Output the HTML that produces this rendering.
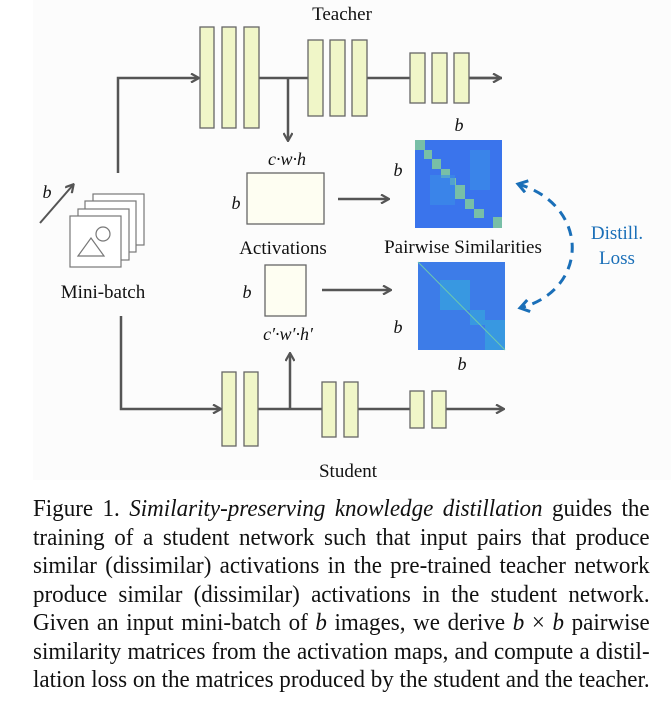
<!DOCTYPE html>
<html><head><meta charset="utf-8"><style>
body{margin:0;width:671px;height:702px;background:#fff;overflow:hidden;position:relative;font-family:"Liberation Serif",serif}
.cap{position:absolute;left:33px;font-size:24.5px;line-height:28px;color:#111;white-space:nowrap}
.cap span{display:inline-block;width:656px;transform:scaleX(0.94);transform-origin:0 0;text-align:justify;text-align-last:justify}
</style></head><body>
<svg width="671" height="480" style="position:absolute;left:0;top:0" font-family="Liberation Serif, serif">
<defs>
<marker id="ah" markerWidth="10" markerHeight="10" refX="8" refY="5" orient="auto" markerUnits="userSpaceOnUse"><path d="M1,0.5 L9,5 L1,9.5" fill="none" stroke="#555" stroke-width="2.2"/></marker>
<marker id="bh" markerWidth="16" markerHeight="16" refX="12" refY="7" orient="auto-start-reverse" markerUnits="userSpaceOnUse"><path d="M3,1 L12,7 L3,13" fill="none" stroke="#1a6fb8" stroke-width="3"/></marker>
</defs>
<rect x="33" y="0" width="638" height="480" fill="#fcfcfc"/>
<g fill="none" stroke="#555" stroke-width="2.5">
<path d="M118,173 V78 H198" marker-end="url(#ah)"/>
<path d="M259,78 H308 M367,78 H410 M469,78 H502" />
<path d="M469,78 H500" marker-end="url(#ah)"/>
<path d="M288,78 V140" marker-end="url(#ah)"/>
<path d="M121,316 V409 H220" marker-end="url(#ah)"/>
<path d="M258,409 H322 M358,409 H410"/>
<path d="M446,409 H503" marker-end="url(#ah)"/>
<path d="M290,409 V354" marker-end="url(#ah)"/>
<path d="M338,199 H388" marker-end="url(#ah)"/>
<path d="M322,290 H390" marker-end="url(#ah)"/>
<path d="M40,223 L73,185" marker-end="url(#ah)" stroke-width="2"/>
</g>
<g fill="#f0f6c8" stroke="#666" stroke-width="1.3">
<rect x="200" y="27" width="14" height="101"/><rect x="222" y="27" width="14" height="101"/><rect x="244" y="27" width="15" height="101"/>
<rect x="308" y="40" width="15" height="76"/><rect x="330" y="40" width="15" height="76"/><rect x="352" y="40" width="15" height="76"/>
<rect x="410" y="53" width="15" height="50"/><rect x="432" y="53" width="15" height="50"/><rect x="454" y="53" width="15" height="50"/>
<rect x="222" y="372" width="14" height="74"/><rect x="244" y="372" width="14" height="74"/>
<rect x="322" y="382" width="14" height="55"/><rect x="344" y="382" width="14" height="55"/>
<rect x="410" y="391" width="14" height="37"/><rect x="432" y="391" width="14" height="37"/>
</g>
<g fill="#fefef2" stroke="#666" stroke-width="1.3">
<rect x="247" y="173" width="77" height="51"/><rect x="265" y="265" width="41" height="51"/>
</g>
<g fill="#fff" stroke="#777" stroke-width="1.2">
<rect x="93" y="194" width="51" height="51"/><rect x="85" y="201" width="51" height="51"/><rect x="78" y="209" width="51" height="51"/><rect x="70" y="216" width="51" height="51"/>
<circle cx="103" cy="234" r="7"/><path d="M78,256 L91,238 L104,256 Z"/>
</g>
<rect x="415" y="140" width="87" height="88" fill="#3a74ec"/>
<g fill="#7fc8a0" opacity="0.9">
<rect x="415" y="140" width="10" height="10"/><rect x="424" y="150" width="8" height="9"/><rect x="432" y="159" width="9" height="10"/><rect x="441" y="169" width="9" height="9"/><rect x="450" y="178" width="6" height="7"/><rect x="455" y="185" width="10" height="14"/><rect x="465" y="199" width="9" height="10"/><rect x="474" y="209" width="10" height="9"/><rect x="493" y="217" width="9" height="11"/>
</g>
<g fill="#3a90e8" opacity="0.6"><rect x="430" y="175" width="25" height="30"/><rect x="470" y="150" width="20" height="40"/></g>
<rect x="418" y="262" width="87" height="88" fill="#3d7ce8"/>
<g fill="#37a0e0" opacity="0.8"><rect x="440" y="280" width="30" height="30"/><rect x="470" y="310" width="15" height="15"/><rect x="485" y="320" width="20" height="30"/></g>
<path d="M418,262 L505,350" stroke="#6cc8b0" stroke-width="1"/>
<path d="M518,184 C590,205 590,290 520,308" fill="none" stroke="#1a6fb8" stroke-width="3" stroke-dasharray="10,7" marker-start="url(#bh)" marker-end="url(#bh)"/>
<g font-size="19" fill="#111" text-anchor="middle">
<text x="342" y="20">Teacher</text>
<text x="283" y="254">Activations</text>
<text x="463" y="253">Pairwise Similarities</text>
<text x="103" y="298">Mini-batch</text>
<text x="348" y="477">Student</text>
</g>
<g font-size="19" fill="#1a6fb8" text-anchor="middle"><text x="617" y="239">Distill.</text><text x="617" y="264">Loss</text></g>
<g font-size="18" font-style="italic" fill="#111" text-anchor="middle">
<text x="47" y="198">b</text><text x="287" y="165">c·w·h</text><text x="236" y="209">b</text>
<text x="247" y="298">b</text><text x="288" y="340">c′·w′·h′</text>
<text x="459" y="131">b</text><text x="398" y="176">b</text><text x="398" y="333">b</text><text x="462" y="370">b</text>
</g>
</svg>
<div class="cap" style="top:495px"><span>Figure 1. <i>Similarity-preserving knowledge distillation</i> guides the</span></div>
<div class="cap" style="top:523.5px"><span>training of a student network such that input pairs that produce</span></div>
<div class="cap" style="top:552px"><span>similar (dissimilar) activations in the pre-trained teacher network</span></div>
<div class="cap" style="top:580.5px"><span>produce similar (dissimilar) activations in the student network.</span></div>
<div class="cap" style="top:609px"><span>Given an input mini-batch of <i>b</i> images, we derive <i>b</i> × <i>b</i> pairwise</span></div>
<div class="cap" style="top:637.5px"><span>similarity matrices from the activation maps, and compute a distil-</span></div>
<div class="cap" style="top:666px"><span>lation loss on the matrices produced by the student and the teacher.</span></div>
</body></html>
